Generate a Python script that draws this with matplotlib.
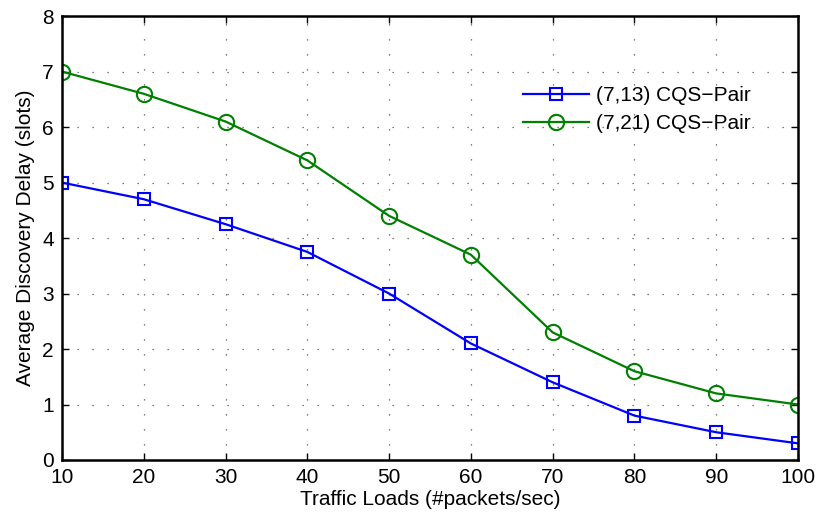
import matplotlib
matplotlib.use("Agg")
import matplotlib.pyplot as plt

plt.rcParams['font.family'] = ['Liberation Sans', 'DejaVu Sans']

loads = [10, 20, 30, 40, 50, 60, 70, 80, 90, 100]
delay_7_13 = [5.0, 4.7, 4.25, 3.75, 3.0, 2.1, 1.4, 0.8, 0.5, 0.3]
delay_7_21 = [7.0, 6.6, 6.1, 5.4, 4.4, 3.7, 2.3, 1.6, 1.2, 1.0]
labels = ['(7,13) CQS\u2212Pair', '(7,21) CQS\u2212Pair']

fig = plt.figure(figsize=(8.17, 5.2), dpi=100)
ax = fig.add_axes([0.0759, 0.1154, 0.9008, 0.8536])

ax.plot(loads, delay_7_13, color='#0000ff', marker='s', markersize=9,
        markerfacecolor='none', markeredgewidth=1.5, linewidth=1.6, label=labels[0])
ax.plot(loads, delay_7_21, color='#008000', marker='o', markersize=11,
        markerfacecolor='none', markeredgewidth=1.5, linewidth=1.6, label=labels[1])

ax.set_xlim(10, 100)
ax.set_ylim(0, 8)
ax.set_xticks(range(10, 101, 10))
ax.set_yticks(range(0, 9))
ax.grid(True, linestyle=(0, (1, 11)), color='#555555', linewidth=0.9)
ax.tick_params(direction='in', length=5, width=1, labelsize=15, top=True, right=True, pad=6)
for s in ax.spines.values():
    s.set_linewidth(1.8)

ax.set_xlabel('Traffic Loads (#packets/sec)', fontsize=15, labelpad=2)
ax.set_ylabel('Average Discovery Delay (slots)', fontsize=15, labelpad=5)

leg = ax.legend(loc='upper right', bbox_to_anchor=(0.962, 0.885), frameon=False,
                fontsize=15, handlelength=3.2, handletextpad=0.35, labelspacing=0.45)

fig.savefig('out.png', dpi=100)
